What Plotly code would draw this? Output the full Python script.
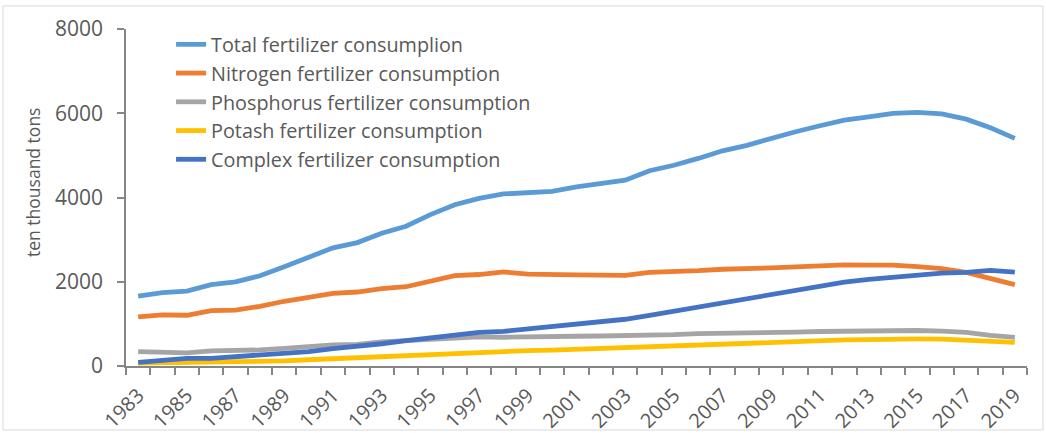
import plotly.graph_objects as go

years = list(range(1983, 2020))

total = [1659.8, 1739.8, 1775.8, 1930.6, 1999.3, 2141.5, 2357.1, 2590.3, 2805.1, 2930.2,
         3151.9, 3317.9, 3593.7, 3827.9, 3980.7, 4083.7, 4124.3, 4146.4, 4253.8, 4339.4,
         4411.6, 4636.6, 4766.2, 4927.7, 5107.8, 5239.0, 5404.4, 5561.7, 5704.2, 5838.8,
         5911.9, 5995.9, 6022.6, 5984.1, 5859.4, 5653.4, 5403.6]
nitrogen = [1164.1, 1212.8, 1204.9, 1312.6, 1326.8, 1417.1, 1536.8, 1638.4, 1726.1, 1756.1,
            1835.1, 1882.0, 2021.9, 2145.3, 2171.7, 2233.3, 2180.9, 2161.5, 2164.1, 2157.3,
            2149.9, 2221.9, 2229.3, 2262.5, 2297.2, 2302.9, 2329.9, 2353.7, 2381.4, 2399.9,
            2394.2, 2392.9, 2361.6, 2310.5, 2221.8, 2065.4, 1930.2]
phosphorus = [341, 326, 311, 359, 362, 382, 418, 462, 500, 515,
              575, 601, 632, 659, 690, 682, 698, 690, 706, 712,
              714, 736, 744, 770, 773, 780, 798, 806, 819, 829,
              831, 846, 843, 830, 797, 729, 682]
potash = [67, 74, 80, 77, 87, 102, 121, 148, 174, 197,
          212, 234, 268, 290, 322, 346, 365, 377, 399, 422,
          438, 467, 489, 510, 533, 545, 564, 587, 605, 618,
          628, 642, 642, 637, 620, 590, 561]
complex_ = [88, 132, 179.6, 181.4, 223.8, 240.7, 284.6, 341.6, 414.9, 461.3,
            528.5, 600.6, 670.8, 733.0, 796.3, 821.5, 880.1, 917.9, 983.7, 1040.4,
            1109.7, 1204.0, 1303.2, 1385.9, 1503.0, 1608.6, 1698.7, 1798.5, 1895.1, 1990.0,
            2057.5, 2115.8, 2175.7, 2207.1, 2220.3, 2268.8, 2230.7]

series_names = ["Total fertilizer consumplion", "Nitrogen fertilizer consumption",
                "Phosphorus fertilizer consumption", "Potash fertilizer consumption",
                "Complex fertilizer consumption"]
series_values = [total, nitrogen, phosphorus, potash, complex_]
colors = ["#5B9BD5", "#ED7D31", "#A5A5A5", "#FFC000", "#4472C4"]

tick_years = list(range(1983, 2020, 2))
tick_labels = [str(y) for y in tick_years]
y_title = "ten thousand tons"

FONT = "Open Sans"
TXT = "#595959"
AX = "#868686"

fig = go.Figure()
for i, (name, vals, col) in enumerate(zip(series_names, series_values, colors)):
    fig.add_trace(go.Scatter(x=years, y=vals, name=name, mode="lines",
                             line=dict(color=col, width=4.8), legendgroup=str(i)))

fig.update_layout(
    width=1046, height=433,
    margin=dict(l=126, r=19, t=29, b=67),
    paper_bgcolor="white", plot_bgcolor="white",
    font=dict(family=FONT, color=TXT, size=20),
    showlegend=True,
    legend=dict(x=0.05, y=1.012, xanchor="left", yanchor="top",
                bgcolor="rgba(0,0,0,0)", font=dict(size=19.8, color=TXT),
                tracegroupgap=0),
    xaxis=dict(type="linear", range=[1982.5, 2019.5],
               tickmode="array", tickvals=tick_years, ticktext=tick_labels,
               tickangle=-45, ticks="", showgrid=False, zeroline=False,
               showline=True, linecolor=AX, linewidth=1.5,
               tickfont=dict(size=20, color=TXT), ticklabelstandoff=8,
               minor=dict(tickmode="linear", tick0=1982.5, dtick=1, ticks="outside",
                          ticklen=7, tickcolor=AX, tickwidth=1.5, showgrid=False),
               automargin=False),
    yaxis=dict(range=[0, 8000], tickmode="linear", tick0=0, dtick=2000,
               ticks="outside", ticklen=7, tickcolor=AX, tickwidth=1.5,
               showline=True, linecolor=AX, linewidth=1.5,
               showgrid=False, zeroline=False,
               tickfont=dict(size=21, color=TXT), ticklabelstandoff=10,
               automargin=False),
)

fig.add_annotation(text=y_title, xref="paper", yref="paper",
                   x=(33 - 126) / 901, y=(366 - 183) / 337, textangle=-90,
                   showarrow=False, font=dict(size=17.5, color=TXT),
                   xanchor="center", yanchor="middle")

# chart-area border
fig.add_shape(type="rect", xref="paper", yref="paper",
              x0=(3 - 126) / 901, x1=(1043 - 126) / 901,
              y0=(366 - 430) / 337, y1=(366 - 6) / 337,
              line=dict(color="#D9D9D9", width=1), fillcolor="rgba(0,0,0,0)", layer="below")

fig.write_html("out.html", config={"displayModeBar": False},
               post_script="document.body.style.margin='0';")
